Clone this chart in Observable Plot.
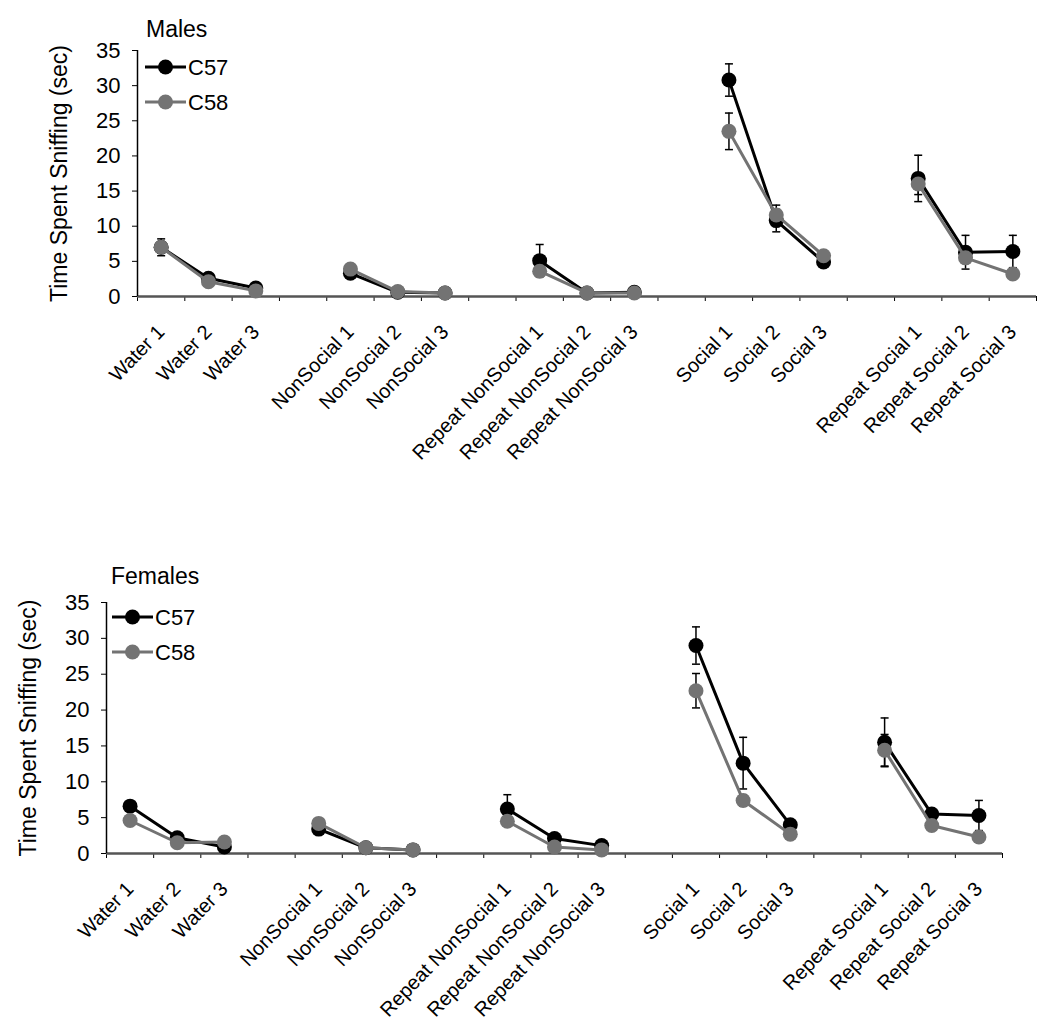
<!DOCTYPE html>
<html>
<head>
<meta charset="utf-8">
<script src="https://cdn.jsdelivr.net/npm/d3@7"></script>
<script src="https://cdn.jsdelivr.net/npm/@observablehq/plot@0.6"></script>
<style>
  body { margin: 0; background: #fff; }
  #wrap { position: relative; width: 1050px; height: 1034px; overflow: hidden; background: #fff; }
  .chart { position: absolute; left: 0; }
  #overlay { position: absolute; left: 0; top: 0; pointer-events: none; }
</style>
</head>
<body>
<div id="wrap">
  <div class="chart" id="top"></div>
  <div class="chart" id="bottom"></div>
  <svg id="overlay" width="1050" height="1034"></svg>
</div>
<script>
// ---- data ----
const categories = [
  "Water 1", "Water 2", "Water 3",
  "NonSocial 1", "NonSocial 2", "NonSocial 3",
  "Repeat NonSocial 1", "Repeat NonSocial 2", "Repeat NonSocial 3",
  "Social 1", "Social 2", "Social 3",
  "Repeat Social 1", "Repeat Social 2", "Repeat Social 3"
];
const groupSize = 3;
const strains = ["C57", "C58"];
const yTicks = [0, 5, 10, 15, 20, 25, 30, 35];
const yLabel = "Time Spent Sniffing (sec)";

const malesC57   = [7.0, 2.6, 1.2, 3.3, 0.6, 0.5, 5.1, 0.5, 0.6, 30.8, 10.8, 4.9, 16.8, 6.3, 6.4];
const malesC57se = [1.2, 0.4, 0.3, 0.4, 0.1, 0.1, 2.3, 0.1, 0.1, 2.3, 1.6, 0.6, 3.3, 2.4, 2.3];
const malesC58   = [7.0, 2.1, 0.8, 3.9, 0.7, 0.5, 3.6, 0.5, 0.5, 23.5, 11.6, 5.8, 16.0, 5.5, 3.2];
const malesC58se = [0.8, 0.4, 0.2, 0.4, 0.1, 0.1, 0.5, 0.1, 0.1, 2.6, 1.4, 0.5, 1.5, 0.6, 0.4];

const femalesC57   = [6.6, 2.2, 0.9, 3.4, 0.8, 0.5, 6.2, 2.1, 1.1, 29.0, 12.6, 4.0, 15.5, 5.5, 5.3];
const femalesC57se = [0.6, 0.3, 0.3, 0.4, 0.1, 0.1, 2.0, 0.4, 0.2, 2.6, 3.6, 0.5, 3.4, 0.6, 2.1];
const femalesC58   = [4.6, 1.5, 1.6, 4.2, 0.8, 0.5, 4.5, 0.9, 0.5, 22.7, 7.4, 2.7, 14.4, 3.9, 2.3];
const femalesC58se = [0.6, 0.3, 0.3, 0.4, 0.1, 0.1, 0.5, 0.2, 0.1, 2.4, 0.8, 0.4, 2.2, 0.5, 0.4];

const colors = {C57: "#000000", C58: "#737373"};
const FONT = "'Liberation Sans', Arial, Helvetica, sans-serif";

// slot index along the category axis (one blank slot between groups)
const slotOf = i => i + Math.floor(i / groupSize);
const nSlots = slotOf(categories.length - 1) + 1;
const labelBySlot = new Map(categories.map((c, i) => [slotOf(i) + 0.5, c]));

const capSymbol = {
  draw(ctx, size) {
    const r = Math.sqrt(size / Math.PI);
    ctx.moveTo(-r, 0); ctx.lineTo(r, 0);
  }
};

function rows(c57, c57se, c58, c58se) {
  const out = [];
  const src = {C57: [c57, c57se], C58: [c58, c58se]};
  for (const s of strains) {
    categories.forEach((c, i) => {
      out.push({strain: s, cat: c, slot: slotOf(i) + 0.5, group: Math.floor(i / groupSize),
                value: src[s][0][i], se: src[s][1][i]});
    });
  }
  return out;
}

function seriesMarks(data) {
  const marks = [];
  for (const s of strains) {
    const d = data.filter(r => r.strain === s);
    marks.push(
      Plot.line(d, {x: "slot", y: "value", z: "group", stroke: colors[s], strokeWidth: 3}),
      Plot.ruleX(d, {x: "slot", y1: r => r.value - r.se, y2: r => r.value + r.se, stroke: "#000", strokeWidth: 1.5}),
      Plot.dot(d, {x: "slot", y: r => r.value + r.se, symbol: capSymbol, r: 4, fill: "none", stroke: "#000", strokeWidth: 1.5}),
      Plot.dot(d, {x: "slot", y: r => r.value - r.se, symbol: capSymbol, r: 4, fill: "none", stroke: "#000", strokeWidth: 1.5}),
      Plot.dot(d, {x: "slot", y: "value", r: 7.5, fill: colors[s], stroke: "none"})
    );
  }
  return marks;
}

function makeChart(data, {marginLeft, marginRight, marginTop, plotH, marginBottom, labelOffset}) {
  return Plot.plot({
    width: 1050,
    height: marginTop + plotH + marginBottom,
    marginLeft, marginRight, marginTop, marginBottom,
    style: {fontFamily: FONT, fontSize: "20px", color: "#000", background: "transparent", overflow: "visible"},
    x: {domain: [0, nSlots], axis: null},
    y: {domain: [0, 35], axis: null},
    marks: [
      Plot.axisY({ticks: yTicks, tickSize: 5, tickPadding: 12, fontSize: 22, label: null}),
      Plot.text([yLabel], {frameAnchor: "left", rotate: -90, dx: -labelOffset, fontSize: 23,
                           textAnchor: "middle", lineAnchor: "middle", fill: "#000"}),
      Plot.axisX({ticks: d3.range(nSlots + 1), tickFormat: () => "", tickSize: 5, label: null}),
      Plot.axisX({ticks: [...labelBySlot.keys()], tickFormat: d => labelBySlot.get(d),
                  tickRotate: -46, tickSize: 0, tickPadding: 32, fontSize: 20, label: null}),
      Plot.ruleY([0], {stroke: "#555", strokeWidth: 2.5}),
      Plot.ruleX([0], {stroke: "#000", strokeWidth: 1.5}),
      ...seriesMarks(data)
    ]
  });
}

const topChart = makeChart(rows(malesC57, malesC57se, malesC58, malesC58se),
  {marginLeft: 137, marginRight: 14, marginTop: 50, plotH: 246, marginBottom: 170, labelOffset: 78});
document.getElementById("top").style.top = "0px";
document.getElementById("top").appendChild(topChart);

const botChart = makeChart(rows(femalesC57, femalesC57se, femalesC58, femalesC58se),
  {marginLeft: 106, marginRight: 48, marginTop: 62, plotH: 251, marginBottom: 178, labelOffset: 78});
document.getElementById("bottom").style.top = "540px";
document.getElementById("bottom").appendChild(botChart);

// ---- titles and legends ----
const ov = d3.select("#overlay").style("font-family", FONT);
function title(txt, x, y) {
  ov.append("text").attr("x", x).attr("y", y).attr("font-size", 23).text(txt);
}
function legend(x0, x1, yA, yB) {
  [[strains[0], yA], [strains[1], yB]].forEach(([s, y]) => {
    ov.append("line").attr("x1", x0).attr("x2", x1).attr("y1", y).attr("y2", y)
      .attr("stroke", colors[s]).attr("stroke-width", 3);
    ov.append("circle").attr("cx", (x0 + x1) / 2).attr("cy", y).attr("r", 7.5).attr("fill", colors[s]);
    ov.append("text").attr("x", x1 + 2).attr("y", y + 8).attr("font-size", 22).text(s);
  });
}
title("Males", 146, 37);
title("Females", 111, 584);
legend(145, 186, 67, 102);
legend(112, 153, 617, 652);
</script>
</body>
</html>
